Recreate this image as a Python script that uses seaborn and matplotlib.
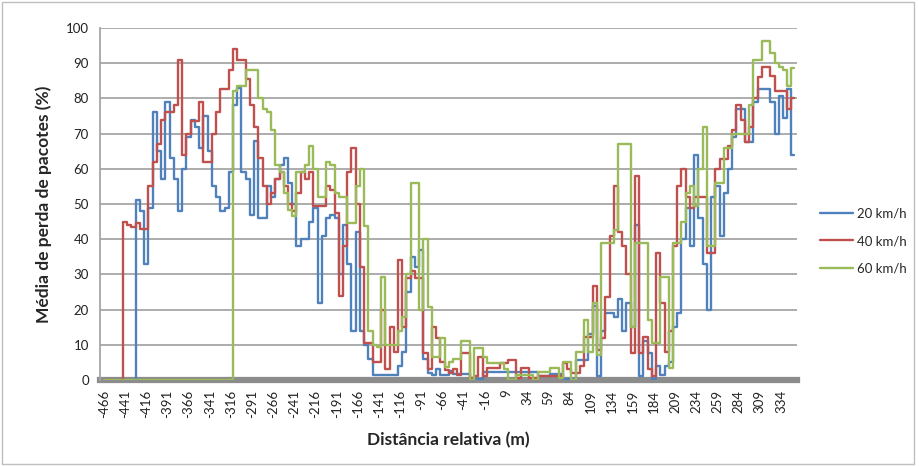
import numpy as np
import pandas as pd
import matplotlib
matplotlib.use("Agg")
import matplotlib.pyplot as plt
import seaborn as sns
from matplotlib.patches import Rectangle

# ---------------- data ----------------
distances = list(range(-466, 350, 5))

speed_labels = ["20 km/h", "40 km/h", "60 km/h"]

loss_20 = [
    0, 0, 0, 0, 0, 0, 0, 0, 51, 48, 33, 49, 76, 65, 57, 79, 63, 57, 48, 60,
    69, 74, 72, 66, 75, 65, 55, 52, 48, 49, 59, 78, 83, 59, 57, 47, 68, 46, 46, 55,
    52, 57, 61, 63, 56, 50, 38, 40, 40, 45, 49, 22, 41, 46, 47, 46, 30, 44, 33, 14,
    42, 14, 10, 6, 1.5, 1.5, 1.5, 1.5, 1.5, 1.5, 4, 8, 25, 35, 32, 37, 6, 2, 1.5, 3,
    1.5, 1.5, 2.5, 1.7, 1.7, 1.7, 1.7, 0.3, 0.3, 0.3, 2.4, 2.4, 2.4, 2.4, 2.4, 2.4, 2.4, 2.4, 2.4, 2.4,
    2.4, 2.4, 2.4, 1.2, 1.2, 1.2, 1.7, 1.7, 1.7, 0.3, 0.3, 0.3, 5.7, 5.7, 5.7, 13, 21, 1, 14, 19,
    19, 18, 23, 14, 22, 15, 44, 1, 11, 7.6, 0.3, 4, 1.5, 4, 5, 15, 19, 40, 49, 38,
    64, 46, 33, 20, 52, 55, 41, 53, 60, 69, 77, 77, 67.5, 67.5, 79, 82.6, 82.6, 82.6, 79, 70,
    80.7, 74.5, 82.6, 64,
]

loss_40 = [
    0, 0, 0, 0, 0, 45, 44, 43.5, 44.5, 43, 43, 55, 62, 67, 74, 76, 76, 78, 91, 64,
    70, 73.6, 73.6, 79, 62, 62, 70, 76, 82.6, 82.6, 88, 94, 91, 91, 85.5, 78, 72, 63, 55, 50,
    53, 57, 59, 55, 50, 48, 53, 59, 57, 59, 49.4, 49.4, 49.4, 55, 54, 47.5, 24, 38, 59, 66,
    50, 32, 10.5, 10.5, 5, 5, 20, 3, 15, 8, 34, 15, 29, 31, 29, 29, 7.6, 3, 15, 12,
    5, 2.8, 2, 3, 1.5, 7.6, 7.6, 0.5, 1, 6.6, 1, 3.3, 3.3, 3.3, 4.7, 4.7, 5.7, 5.7, 0.5, 3.3,
    3.3, 0.5, 0.5, 1, 1, 1, 1, 1, 1, 4.7, 3, 2, 2, 4, 12.3, 12.3, 26.6, 8.5, 12, 23.7,
    41, 55, 42, 38, 30, 7.6, 58, 7.6, 12.3, 3, 1, 36, 22, 8, 14, 38, 55, 60, 52, 49,
    52, 52, 52, 36, 36, 60, 62.7, 62.7, 66.5, 71, 78, 74, 67.5, 72, 80, 86, 89, 89, 86.4, 82,
    82, 82, 77, 80,
]

loss_60 = [
    0, 0, 0, 0, 0, 0, 0, 0, 0, 0, 0, 0, 0, 0, 0, 0, 0, 0, 0, 0,
    0, 0, 0, 0, 0, 0, 0, 0, 0, 0, 0, 82, 83.5, 83.5, 88, 88, 88, 80, 77, 76,
    71, 61, 59, 53, 48.4, 46.5, 59, 59, 61, 66.5, 60, 52, 52, 62, 61, 53, 52, 52, 44.6, 44.6,
    55, 60, 43.7, 14, 10, 9.5, 29.4, 10, 10, 10, 14, 18, 30, 56, 56, 20, 40, 20.7, 6.6, 6.6,
    12, 3.8, 5, 6, 6, 11, 11, 0, 9, 9, 6.6, 4.7, 4.7, 4.7, 4.7, 3, 0, 0, 1.4, 1.4,
    1.4, 1.4, 0, 2.4, 2.4, 2.4, 3.3, 3.3, 0.5, 5, 5, 0, 8, 8, 17, 8, 22, 7, 39, 39,
    39, 42.7, 67, 67, 67, 15, 39, 39, 39, 17, 10.5, 10.5, 29.4, 29.4, 3.3, 39, 39, 45, 53, 55,
    49.4, 60, 72, 38, 38, 56, 56, 66, 66, 70, 70, 70, 70, 78, 91, 91, 96.4, 96.4, 93, 90,
    89, 88, 83.5, 88.6,
]

y_ticks = list(range(0, 101, 10))
x_tick_labels = list(range(-466, 350, 25))

colors = ["#4F81BD", "#C0504D", "#9BBB59"]

# ---------------- figure ----------------
sns.set_theme(style="white")
plt.rcParams["font.family"] = ["Lato", "DejaVu Sans"]

fig = plt.figure(figsize=(9.19, 4.66), dpi=100)
ax = fig.add_axes([100 / 919, 1 - 380 / 466, 697 / 919, 352 / 466])

frames = []
for lab, vals in zip(speed_labels, [loss_20, loss_40, loss_60]):
    assert len(vals) == len(distances), (lab, len(vals))
    frames.append(pd.DataFrame({"dist": distances, "loss": vals, "speed": lab}))
df = pd.concat(frames, ignore_index=True)

sns.lineplot(data=df, x="dist", y="loss", hue="speed", palette=colors,
             estimator=None, sort=False, linewidth=1.7, ax=ax, zorder=3,
             drawstyle="steps-mid")

ax.set_xlim(-470.7, 353)
ax.set_ylim(0, 100)
ax.set_yticks(y_ticks)
ax.set_yticklabels([str(v) for v in y_ticks], fontsize=9.5, color="#222222")
ax.set_xticks(x_tick_labels)
ax.set_xticklabels([str(v) for v in x_tick_labels], rotation=90, fontsize=9.5,
                   color="#222222")

ax.grid(axis="y", color="#a6a6a6", linewidth=1.3)
ax.grid(axis="x", visible=False)
ax.set_axisbelow(True)

for s in ["top", "right"]:
    ax.spines[s].set_visible(False)
ax.spines["left"].set_color("#a6a6a6")
ax.spines["left"].set_linewidth(1.3)
ax.spines["bottom"].set_color("#8c8c8c")
ax.spines["bottom"].set_linewidth(4.5)
ax.spines["bottom"].set_zorder(2)

ax.tick_params(axis="y", length=5, color="#a6a6a6", width=1.2, pad=3)
ax.tick_params(axis="x", length=4, color="#8c8c8c", width=1.0, pad=3)

ax.set_xlabel("Distância relativa (m)", fontsize=12.5, fontweight="bold", labelpad=10)
ax.set_ylabel("Média de perda de pacotes (%)", fontsize=12.5, fontweight="bold", labelpad=10)

handles, labels = ax.get_legend_handles_labels()
ax.legend(handles, labels, loc="center left", bbox_to_anchor=(808 / 919, 1 - 241 / 466),
          bbox_transform=fig.transFigure, frameon=False, fontsize=9.5,
          handlelength=2.5, handletextpad=0.3, labelspacing=1.2)

fig.patches.append(Rectangle((0.002, 0.004), 0.993, 0.992, transform=fig.transFigure,
                             fill=False, edgecolor="#bfbfbf", linewidth=1.0))

fig.savefig("out.png", dpi=100, facecolor="white")
